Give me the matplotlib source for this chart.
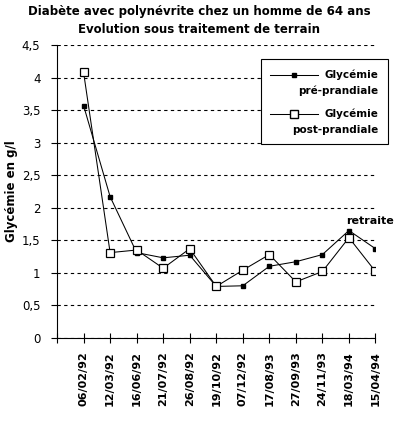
import matplotlib
matplotlib.use("Agg")
import matplotlib.pyplot as plt
from matplotlib.lines import Line2D
from matplotlib.patches import Rectangle
from matplotlib.ticker import FuncFormatter

dates = ["06/02/92", "12/03/92", "16/06/92", "21/07/92", "26/08/92", "19/10/92",
         "07/12/92", "17/08/93", "27/09/93", "24/11/93", "18/03/94", "15/04/94"]
pre = [3.57, 2.17, 1.31, 1.23, 1.27, 0.79, 0.80, 1.10, 1.17, 1.28, 1.65, 1.37]
post = [4.08, 1.31, 1.35, 1.07, 1.37, 0.79, 1.04, 1.28, 0.86, 1.02, 1.54, 1.02]

plt.rcParams["font.family"] = "DejaVu Sans"

W, H = 399, 426
fig = plt.figure(figsize=(W / 100, H / 100), dpi=100)
ax = fig.add_axes([0.143, 0.207, 0.798, 0.687])

pre_style = dict(color="black", lw=0.75, marker="s", ms=3.2, mfc="black", mec="black")
post_style = dict(color="black", lw=0.75, marker="s", ms=5.5, mfc="white", mec="black", mew=0.9)

x = list(range(1, len(dates) + 1))
ax.plot(x, pre, **pre_style)
ax.plot(x, post, **post_style)

ax.set_xlim(0, len(dates))
ax.set_ylim(0, 4.5)
ax.set_yticks([0, 0.5, 1, 1.5, 2, 2.5, 3, 3.5, 4, 4.5])
ax.yaxis.set_major_formatter(FuncFormatter(lambda v, p: ("%g" % v).replace(".", ",")))
ax.set_xticks(range(0, len(dates) + 1))
ax.set_xticklabels([""] + dates, rotation=90, fontsize=8, fontweight="bold")
ax.tick_params(axis="x", direction="inout", length=7, width=0.8, pad=6)
ax.tick_params(axis="y", direction="out", length=4, width=0.8, labelsize=8.5, pad=8)

for s in ["top", "right"]:
    ax.spines[s].set_visible(False)
ax.grid(axis="y", linestyle=(0, (3, 3)), color="black", lw=0.8)
ax.set_axisbelow(True)

ax.set_ylabel("Glycémie en g/l", fontsize=8.5, fontweight="bold", labelpad=3)
fig.suptitle("Diabète avec polynévrite chez un homme de 64 ans\nEvolution sous traitement de terrain",
             x=0.5, y=0.988, fontsize=8.5, fontweight="bold", linespacing=1.5)

ax.text(10.9, 1.8, "retraite", fontsize=8, fontweight="bold", ha="left", va="center")

# legende dessinee a la main (echantillon au-dessus du 2e mot, comme l'original)
def fx(px):
    return px / W

def fy(py):
    return 1 - py / H

fig.add_artist(Rectangle((fx(261), fy(144)), fx(388) - fx(261), fy(59) - fy(144),
                         transform=fig.transFigure, fill=True, facecolor="white",
                         edgecolor="black", lw=0.8))
rows = [("Glycémie", "pré-prandiale", pre_style, 75),
        ("Glycémie", "post-prandiale", post_style, 114)]
for l1, l2, st, py in rows:
    fig.add_artist(Line2D([fx(270), fx(318)], [fy(py)] * 2, transform=fig.transFigure,
                          color="black", lw=0.75))
    fig.add_artist(Line2D([fx(294)], [fy(py)], transform=fig.transFigure, ls="none",
                          marker=st["marker"], ms=st["ms"], mfc=st["mfc"], mec=st["mec"]))
    fig.text(fx(378), fy(py), l1, ha="right", va="center", fontsize=7.5, fontweight="bold")
    fig.text(fx(378), fy(py + 16), l2, ha="right", va="center", fontsize=7.5, fontweight="bold")

fig.savefig("out.png", dpi=100)
